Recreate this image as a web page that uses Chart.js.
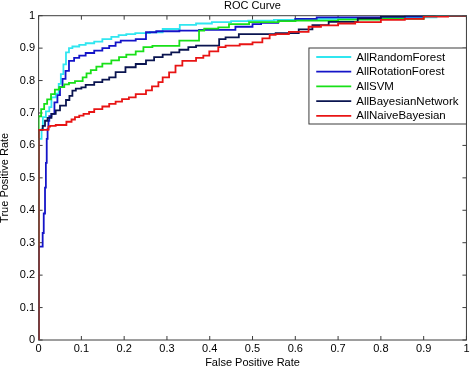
<!DOCTYPE html>
<html>
<head>
<meta charset="utf-8">
<title>ROC Curve</title>
<script src="https://cdn.jsdelivr.net/npm/chart.js@4/dist/chart.umd.min.js"></script>
<style>
  html, body { margin: 0; padding: 0; background: #fff; }
  canvas { display: block; }
</style>
</head>
<body>
<canvas id="roc" width="472" height="368"></canvas>
<script>
(function(Chart) {
  'use strict';

  var seriesNames = ['AllRandomForest', 'AllRotationForest', 'AllSVM', 'AllBayesianNetwork', 'AllNaiveBayesian'];
  var tickLabels = ['0', '0.1', '0.2', '0.3', '0.4', '0.5', '0.6', '0.7', '0.8', '0.9', '1'];

  // one point per step corner (roughly)
  var rfFpr = [0, 0, 0.007, 0.01, 0.017, 0.025, 0.03, 0.04, 0.047, 0.052, 0.058, 0.064, 0.071, 0.079, 0.095, 0.11, 0.13, 0.149, 0.17, 0.187, 0.205, 0.226, 0.26, 0.29, 0.33, 0.368, 0.405, 0.45, 0.49, 0.55, 0.62, 0.7, 0.8, 0.93, 1];
  var rfTpr = [0, 0.41, 0.62, 0.65, 0.687, 0.705, 0.718, 0.748, 0.76, 0.79, 0.82, 0.85, 0.887, 0.9, 0.905, 0.91, 0.915, 0.92, 0.928, 0.935, 0.94, 0.943, 0.946, 0.949, 0.959, 0.972, 0.976, 0.98, 0.983, 0.985, 0.987, 0.99, 0.99, 0.995, 1];

  var rotFpr = [0, 0, 0.0095, 0.012, 0.015, 0.017, 0.019, 0.021, 0.023, 0.025, 0.03, 0.037, 0.044, 0.05, 0.056, 0.063, 0.071, 0.083, 0.095, 0.11, 0.13, 0.149, 0.165, 0.18, 0.192, 0.227, 0.251, 0.275, 0.329, 0.375, 0.46, 0.5, 0.52, 0.56, 0.6, 0.65, 0.7, 0.8, 0.9, 0.964, 1];
  var rotTpr = [0, 0.24, 0.288, 0.33, 0.39, 0.47, 0.546, 0.62, 0.65, 0.676, 0.69, 0.697, 0.733, 0.755, 0.78, 0.805, 0.83, 0.861, 0.87, 0.877, 0.885, 0.892, 0.9, 0.907, 0.918, 0.923, 0.928, 0.949, 0.952, 0.954, 0.956, 0.966, 0.974, 0.978, 0.983, 0.99, 0.995, 0.995, 0.997, 1, 1];

  var svmFpr = [0, 0, 0.006, 0.013, 0.02, 0.029, 0.038, 0.048, 0.06, 0.071, 0.085, 0.103, 0.112, 0.122, 0.135, 0.149, 0.17, 0.188, 0.205, 0.227, 0.245, 0.266, 0.329, 0.375, 0.387, 0.42, 0.445, 0.492, 0.561, 0.6, 0.7, 0.8, 0.9, 0.95, 1];
  var svmTpr = [0, 0.67, 0.69, 0.712, 0.728, 0.742, 0.758, 0.772, 0.78, 0.788, 0.793, 0.798, 0.81, 0.822, 0.832, 0.843, 0.852, 0.862, 0.872, 0.88, 0.89, 0.903, 0.907, 0.923, 0.954, 0.96, 0.964, 0.974, 0.98, 0.983, 0.985, 0.988, 0.99, 1, 1];

  var bnFpr = [0, 0, 0.0095, 0.015, 0.021, 0.03, 0.04, 0.05, 0.064, 0.072, 0.079, 0.087, 0.1, 0.11, 0.13, 0.149, 0.165, 0.18, 0.203, 0.227, 0.251, 0.27, 0.29, 0.31, 0.329, 0.35, 0.368, 0.422, 0.437, 0.468, 0.484, 0.554, 0.608, 0.64, 0.678, 0.746, 0.8, 0.856, 0.95, 1];
  var bnTpr = [0, 0.635, 0.648, 0.66, 0.676, 0.685, 0.697, 0.708, 0.723, 0.74, 0.753, 0.769, 0.775, 0.779, 0.787, 0.795, 0.803, 0.81, 0.826, 0.841, 0.851, 0.862, 0.872, 0.88, 0.887, 0.895, 0.903, 0.908, 0.928, 0.933, 0.943, 0.943, 0.946, 0.958, 0.971, 0.981, 0.992, 0.997, 1, 1];

  var nbFpr = [0, 0, 0.023, 0.027, 0.04, 0.065, 0.077, 0.085, 0.095, 0.105, 0.118, 0.13, 0.149, 0.165, 0.18, 0.195, 0.211, 0.227, 0.251, 0.265, 0.28, 0.29, 0.305, 0.32, 0.336, 0.368, 0.385, 0.399, 0.42, 0.437, 0.47, 0.5, 0.523, 0.54, 0.554, 0.585, 0.631, 0.66, 0.7, 0.74, 0.8, 0.856, 0.9, 0.957, 1];
  var nbTpr = [0, 0.648, 0.648, 0.658, 0.66, 0.663, 0.673, 0.68, 0.687, 0.692, 0.697, 0.703, 0.712, 0.72, 0.728, 0.735, 0.743, 0.748, 0.758, 0.77, 0.782, 0.795, 0.81, 0.825, 0.846, 0.861, 0.87, 0.877, 0.89, 0.903, 0.908, 0.912, 0.918, 0.93, 0.941, 0.943, 0.95, 0.966, 0.97, 0.976, 0.98, 0.987, 0.99, 0.997, 1];

  var colors = ['#30e6f0', '#1414c8', '#18e018', '#0a1450', '#e81414'];
  var fontFamily = "'Liberation Sans', Arial, sans-serif";

  function zip(xs, ys) {
    return xs.map(function(x, i) { return { x: x, y: ys[i] }; });
  }

  var curves = [
    zip(rfFpr, rfTpr),
    zip(rotFpr, rotTpr),
    zip(svmFpr, svmTpr),
    zip(bnFpr, bnTpr),
    zip(nbFpr, nbTpr)
  ];

  var datasets = seriesNames.map(function(name, i) {
    return {
      label: name,
      data: curves[i],
      borderColor: colors[i],
      borderWidth: 1.8,
      pointRadius: 0,
      fill: false,
      stepped: 'after',
      order: seriesNames.length - i // red ends up on top, like matlab
    };
  });

  // matlab style box with inward ticks on all four sides
  var frameTicks = {
    id: 'frameTicks',
    beforeDatasetsDraw: function(chart) {
      var ctx = chart.ctx;
      var a = chart.chartArea;
      var xs = chart.scales.x;
      var ys = chart.scales.y;
      var len = 4;

      ctx.save();
      ctx.strokeStyle = '#3c3c3c';
      ctx.lineWidth = 1;
      ctx.strokeRect(a.left, a.top, a.right - a.left, a.bottom - a.top);

      ctx.beginPath();
      xs.ticks.forEach(function(t) {
        var px = xs.getPixelForValue(t.value);
        ctx.moveTo(px, a.bottom); ctx.lineTo(px, a.bottom - len);
        ctx.moveTo(px, a.top);    ctx.lineTo(px, a.top + len);
      });
      ys.ticks.forEach(function(t) {
        var py = ys.getPixelForValue(t.value);
        ctx.moveTo(a.left, py);  ctx.lineTo(a.left + len, py);
        ctx.moveTo(a.right, py); ctx.lineTo(a.right - len, py);
      });
      ctx.stroke();
      ctx.restore();
    }
  };

  var boxLegend = {
    id: 'boxLegend',
    afterDatasetsDraw: function(chart) {
      var ctx = chart.ctx;
      var a = chart.chartArea;
      var w = 157.5, h = 76;
      var left = a.right - w;
      var top = a.top + 32.3;
      var rowH = 14.7;

      ctx.save();
      ctx.fillStyle = '#fff';
      ctx.fillRect(left, top, w, h);
      ctx.strokeStyle = '#3c3c3c';
      ctx.lineWidth = 1;
      ctx.strokeRect(left, top, w, h);

      ctx.font = '11.5px ' + fontFamily;
      ctx.textBaseline = 'middle';
      ctx.textAlign = 'left';
      chart.data.datasets.forEach(function(ds, i) {
        var y = top + 9 + i * rowH;
        ctx.strokeStyle = ds.borderColor;
        ctx.lineWidth = 1.8;
        ctx.beginPath();
        ctx.moveTo(left + 7.3, y);
        ctx.lineTo(left + 42.3, y);
        ctx.stroke();
        ctx.fillStyle = '#000';
        ctx.fillText(ds.label, left + 47.3, y + 0.5);
      });
      ctx.restore();
    }
  };

  var axisFont = { family: fontFamily, size: 11 };

  new Chart(document.getElementById('roc'), {
    type: 'line',
    data: { datasets: datasets },
    plugins: [frameTicks, boxLegend],
    options: {
      responsive: false,
      animation: false,
      devicePixelRatio: 1,
      layout: { padding: { left: 0, right: 3.4, top: 0, bottom: 0 } },
      plugins: {
        legend: { display: false },
        tooltip: { enabled: false },
        title: {
          display: true,
          fullSize: false,
          text: 'ROC Curve',
          color: '#000',
          font: { family: fontFamily, size: 11, weight: 'normal', lineHeight: 1 },
          padding: { top: 0, bottom: 4.7 }
        }
      },
      scales: {
        x: {
          type: 'linear',
          min: 0,
          max: 1,
          grid: { display: false, drawTicks: false },
          border: { display: false },
          ticks: {
            stepSize: 0.1,
            autoSkip: false,
            maxRotation: 0,
            padding: 2.5,
            color: '#000',
            font: axisFont,
            callback: function(v, i) { return tickLabels[i]; }
          },
          title: {
            display: true,
            text: 'False Positive Rate',
            color: '#000',
            font: { family: fontFamily, size: 11, lineHeight: 1 },
            padding: 0
          },
          afterFit: function(s) { s.height = 28; }
        },
        y: {
          type: 'linear',
          min: 0,
          max: 1,
          grid: { display: false, drawTicks: false },
          border: { display: false },
          ticks: {
            stepSize: 0.1,
            autoSkip: false,
            padding: 3.5,
            color: '#000',
            font: axisFont,
            callback: function(v, i) { return tickLabels[i]; }
          },
          title: {
            display: true,
            text: 'True Positive Rate',
            color: '#000',
            font: { family: fontFamily, size: 11, lineHeight: 0.85 },
            padding: 0
          },
          afterFit: function(s) { s.width = 38.6; }
        }
      }
    }
  });

}(Chart));
</script>
</body>
</html>
